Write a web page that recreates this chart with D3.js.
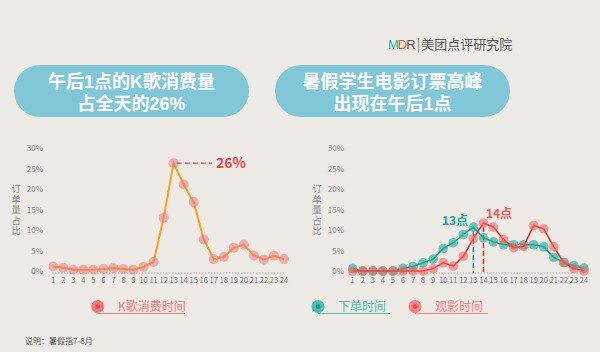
<!DOCTYPE html>
<html>
<head>
<meta charset="utf-8">
<script src="https://cdn.jsdelivr.net/npm/d3@7"></script>
<style>
  html, body { margin: 0; padding: 0; background: #eeebe6; }
  #chart { width: 600px; height: 352px; position: relative; }
  text { font-family: "Noto Sans CJK SC", "Noto Sans", sans-serif; }
  .pill-title {
    position: absolute;
    width: 235px;
    text-align: center;
    font-family: "Liberation Sans", "Noto Sans CJK SC", sans-serif;
    font-size: 18px;
    font-weight: bold;
    line-height: 22px;
    color: #fff;
  }
</style>
</head>
<body>
<div id="chart"></div>
<script>
// Hours of the day and y ticks
const hours = d3.range(1, 25);
const yTicks = [0, 5, 10, 15, 20, 25, 30];

// K歌消费时间 (% of daily orders)
const ktvShare = [1.1, 0.8, 0.3, 0.3, 0.3, 0.5, 0.7, 0.5, 0.3, 1.0, 2.2, 13.0,
  26.3, 21.1, 16.8, 7.7, 2.9, 3.4, 5.7, 6.4, 3.8, 2.8, 3.7, 2.9];

// 下单时间 / 观影时间 (% of daily orders)
const orderShare = [0.6, 0, 0, 0, 0, 0.6, 1.1, 2.0, 2.9, 5.5, 6.9, 8.9,
  10.7, 8.1, 7.1, 6.4, 6.4, 6.4, 6.4, 5.9, 3.3, 2.1, 1.3, 0.7];
const watchShare = [0, 0, 0, 0, 0, 0, 0, 0, 0.6, 2.0, 1.2, 3.6,
  7.9, 11.7, 10.7, 7.7, 5.7, 6.0, 11.1, 10.3, 5.9, 2.0, 0.6, 0];

const titles = [
  ['午后1点的K歌消费量', '占全天的26%'],
  ['暑假学生电影订票高峰', '出现在午后1点']
];

const container = d3.select('#chart');
const svg = container.append('svg')
  .attr('width', 600)
  .attr('height', 352)
  .style('position', 'absolute')
  .style('left', 0).style('top', 0);

// Logo
const logo = svg.append('text')
  .attr('x', 388).attr('y', 49)
  .attr('font-size', 13);
logo.append('tspan').attr('fill', '#2bb3a3').attr('font-family', 'Liberation Sans').text('M');
logo.append('tspan').attr('fill', '#e0572e').attr('font-family', 'Liberation Sans').attr('dx', -1).text('D');
logo.append('tspan').attr('fill', '#555').attr('font-family', 'Liberation Sans').attr('dx', -1).text('R');
logo.append('tspan').attr('fill', '#777').attr('dx', 1).text('|');
logo.append('tspan').attr('fill', '#555').attr('dx', 1).text('美团点评研究院');

// Title pills: rect in the svg, two-line title as an html block on top
const pillX = [14, 275];
titles.forEach((lines, i) => {
  svg.append('rect')
    .attr('x', pillX[i]).attr('y', 65)
    .attr('width', 235).attr('height', 52)
    .attr('rx', 26)
    .attr('fill', '#80c8d8');
  container.append('div')
    .attr('class', 'pill-title')
    .style('left', pillX[i] + 'px')
    .style('top', '71px')
    .html(lines.join('<br>'));
});

const y = d3.scaleLinear().domain([0, 30]).range([271, 148]);

function drawFrame(xStart, xEnd, labelRight, titleX) {
  const x = d3.scaleLinear().domain([1, 24]).range([xStart, xEnd]);
  const g = svg.append('g');

  g.selectAll('.ytick')
    .data(yTicks)
    .join('text')
      .attr('x', labelRight)
      .attr('y', d => y(d) + 3)
      .attr('text-anchor', 'end')
      .attr('font-size', 8)
      .attr('fill', '#888')
      .text(d => d + '%');

  g.append('line')
    .attr('x1', x(1) - 1).attr('x2', x(24) + 2)
    .attr('y1', y(0) + 2).attr('y2', y(0) + 2)
    .attr('stroke', '#888')
    .attr('stroke-width', 1)
    .attr('stroke-dasharray', '1,2');

  g.selectAll('.xtick')
    .data(hours)
    .join('text')
      .attr('x', d => x(d))
      .attr('y', 283)
      .attr('text-anchor', 'middle')
      .attr('font-size', 7.5)
      .attr('fill', '#777')
      .text(d => d);

  // vertical axis title, one text element written top to bottom
  g.append('text')
    .attr('x', titleX)
    .attr('y', 184)
    .style('writing-mode', 'vertical-rl')
    .attr('font-size', 9.2)
    .attr('letter-spacing', 1.3)
    .attr('fill', '#888')
    .text('订单量占比');

  return x;
}

// Left chart
const xL = drawFrame(53.3, 284, 43, 16);
svg.append('path')
  .datum(ktvShare)
  .attr('fill', 'none')
  .attr('stroke', '#f5a21c')
  .attr('stroke-width', 2)
  .attr('d', d3.line().x((d, i) => xL(hours[i])).y(d => y(d)));
svg.selectAll('.ktvDot')
  .data(ktvShare)
  .join('circle')
    .attr('cx', (d, i) => xL(hours[i]))
    .attr('cy', d => y(d))
    .attr('r', 5)
    .attr('fill', 'rgba(240,110,120,0.5)');
svg.append('line')
  .attr('x1', xL(13) + 3).attr('x2', 212)
  .attr('y1', y(26.3)).attr('y2', y(26.3))
  .attr('stroke', '#e8474a')
  .attr('stroke-width', 1.2)
  .attr('stroke-dasharray', '5,3');
svg.append('text')
  .attr('x', 216).attr('y', y(26.3) + 5)
  .attr('font-size', 14)
  .attr('font-weight', 'bold')
  .attr('fill', '#e8474a')
  .text('26%');

// Right chart
const xR = drawFrame(352.7, 584, 344, 317);
const series = [
  { values: orderShare, line: '#1d8f80', dot: 'rgba(40,175,155,0.65)', peak: 13, label: '13点', lx: 455, ly: 225 },
  { values: watchShare, line: '#d42a2a', dot: 'rgba(245,100,100,0.6)', peak: 14, label: '14点', lx: 499, ly: 218 }
];
series.forEach(s => {
  svg.append('line')
    .attr('x1', xR(s.peak)).attr('x2', xR(s.peak))
    .attr('y1', y(s.values[s.peak - 1]) + 4).attr('y2', y(0) + 2)
    .attr('stroke', s.line)
    .attr('stroke-width', 1.5)
    .attr('stroke-dasharray', '5,3');
});
series.forEach(s => {
  svg.append('path')
    .datum(s.values)
    .attr('fill', 'none')
    .attr('stroke', s.line)
    .attr('stroke-width', 1.5)
    .attr('d', d3.line().x((d, i) => xR(hours[i])).y(d => y(d)));
  svg.selectAll(null)
    .data(s.values)
    .join('circle')
      .attr('cx', (d, i) => xR(hours[i]))
      .attr('cy', d => y(d))
      .attr('r', 4.8)
      .attr('fill', s.dot);
  svg.append('text')
    .attr('x', s.lx).attr('y', s.ly)
    .attr('text-anchor', 'middle')
    .attr('font-size', 12)
    .attr('font-weight', 'bold')
    .attr('fill', s.line === '#1d8f80' ? '#22a595' : '#ea5a5a')
    .text(s.label);
});

// Legends
const legends = [
  { cx: 97.7, text: 'K歌消费时间', color: '#f07a7a', dark: '#e84848', tx: 118, end: 185 },
  { cx: 318, text: '下单时间', color: '#4cbdb0', dark: '#1d9484', tx: 338, end: 390 },
  { cx: 415, text: '观影时间', color: '#f58282', dark: '#e84848', tx: 435, end: 488 }
];
legends.forEach(l => {
  svg.append('line')
    .attr('x1', l.cx).attr('x2', l.end)
    .attr('y1', 313.5).attr('y2', 313.5)
    .attr('stroke', l.color)
    .attr('stroke-width', 1);
  svg.append('circle')
    .attr('cx', l.cx).attr('cy', 306.5).attr('r', 6.5)
    .attr('fill', l.color);
  svg.append('circle')
    .attr('cx', l.cx).attr('cy', 306.5).attr('r', 2.3)
    .attr('fill', l.dark);
  svg.append('text')
    .attr('x', l.tx).attr('y', 311)
    .attr('font-size', 12)
    .attr('fill', l.color)
    .text(l.text);
});

// Note
svg.append('text')
  .attr('x', 25).attr('y', 344)
  .attr('font-size', 8)
  .attr('fill', '#555')
  .text('说明：暑假指7-8月');
</script>
</body>
</html>
